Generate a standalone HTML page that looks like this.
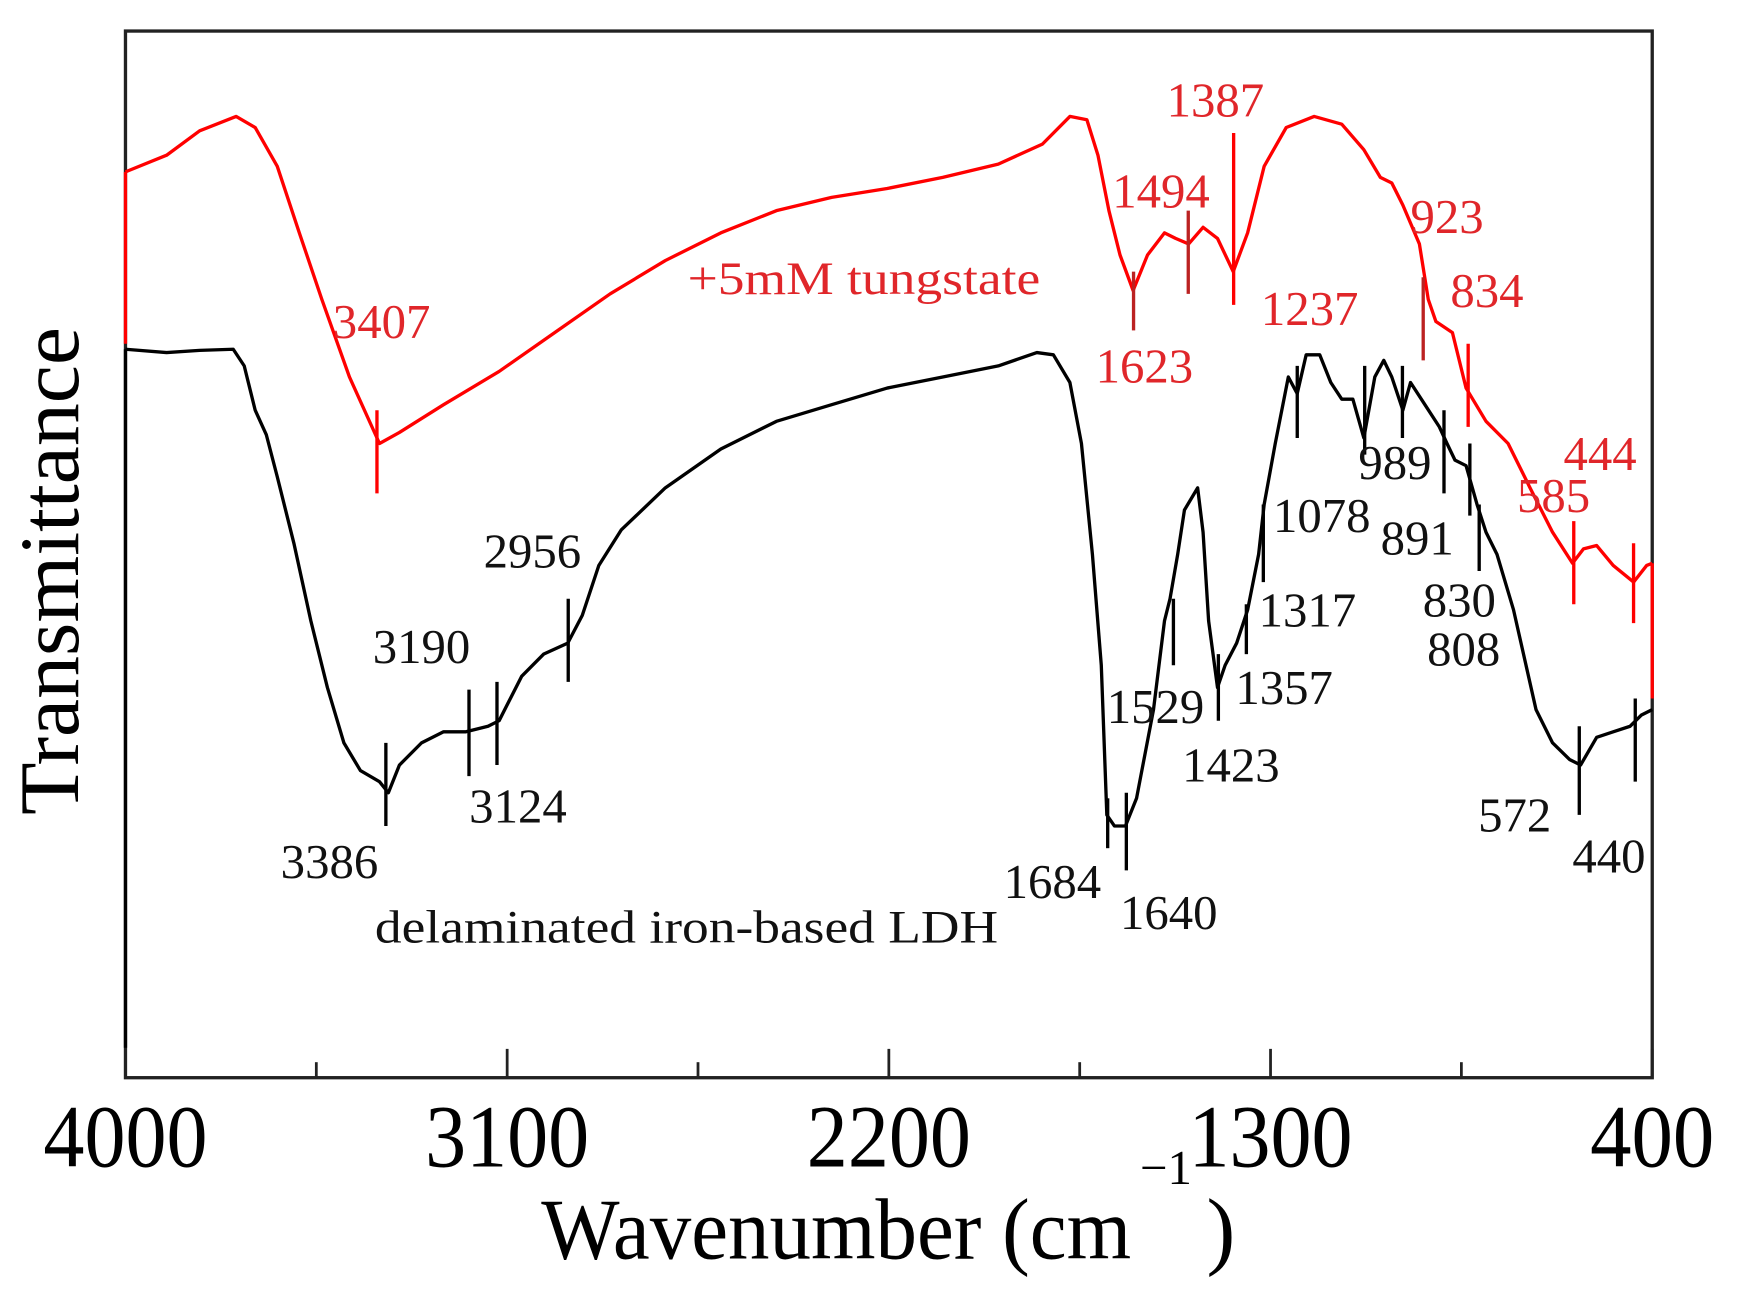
<!DOCTYPE html>
<html><head><meta charset="utf-8"><style>
html,body{margin:0;padding:0;background:#fff}
svg{display:block}
text{font-family:"Liberation Serif",serif}
</style></head><body>
<svg id="chart" width="1740" height="1305" viewBox="0 0 1569 1177" xmlns="http://www.w3.org/2000/svg">
<g id="g"></g>
</svg>
<script>
// Data (wavenumber cm-1, transmittance a.u.)
const redWn=[4000,3903,3825,3739,3694,3642,3590,3537,3472,3401,3354,3250,3119,2988,2857,2727,2596,2465,2335,2204,2073,1942,1838,1773,1733,1707,1681,1655,1624,1590,1550,1524,1493,1459,1425,1388,1354,1315,1263,1197,1132,1080,1041,1014,988,949,928,910,871,839,792,740,688,635,588,562,531,492,444,413,400];
const redT=[84.5,86,88.2,89.5,88.5,85,79,73,66,60,61,63.5,66.5,70,73.5,76.5,79,81,82.2,83,84,85.2,87,89.5,89.2,86,81,77,73.8,77,79,78.5,78,79.5,78.5,75.5,79,85,88.5,89.5,88.8,86.5,84,83.5,81.5,78,73,71,70,65,62,60,56,52,49.2,50.5,50.8,49,47.5,49,49.2];
const blackWn=[4000,3903,3825,3746,3720,3694,3668,3642,3603,3563,3524,3485,3446,3401,3380,3354,3302,3250,3197,3145,3119,3066,3014,2957,2923,2884,2831,2727,2596,2465,2335,2204,2073,1942,1851,1812,1773,1746,1720,1699,1686,1668,1642,1616,1576,1550,1537,1519,1503,1472,1459,1446,1425,1407,1380,1354,1328,1315,1289,1258,1237,1216,1184,1158,1132,1106,1080,1054,1033,1014,988,970,936,902,884,865,839,813,792,766,727,674,635,595,569,531,492,452,426,400];
const blackT=[68.5,68.2,68.4,68.5,67,63,60.8,57,51,44,38,33,30.5,29.5,28.5,31,33,34,34,34.5,35,39,41,42,44.5,49,52.2,56,59.5,62,63.5,65,66,67,68.2,68,65.5,60,50,40,26.5,25.5,25.5,28,36,44,46,50,54,56,52,44,38,40,42,45,50,54.5,60,66,64.5,68,68,65.5,64,64,60.5,66,67.5,66,63,65.5,63.5,61.5,60,58.5,58,54.5,52,50,45,36,33,31.5,31,33.5,34,34.5,35.5,36];
const xTicks=[4000,3100,2200,1300,400];
const xMinor=[3550,2650,1750,850];
const redMarkWn=[3407,1623,1494,1387,940,834,585,444];
const redMarkTop=[63,75.5,81,88,75,69,53,51];
const redMarkBot=[55.5,70.2,73.5,72.5,67.5,61.5,45.5,43.8];
const redLabels=["3407","1623","1494","1387","923","834","585","444","1237"];
const redLabelPos=[[300,305],[988,345],[1003,187],[1052,105],[1272,210],[1308,277],[1368,462],[1410,424],[1137,293]];
const blackMarkWn=[3386,3190,3124,2956,1684,1640,1529,1423,1357,1317,1237,1078,989,891,830,808,572,440];
const blackMarkTop=[33,37.8,38.5,46,28,28.5,46,41,45.5,54.5,67,67,67,63,60,54.5,34.5,37];
const blackMarkBot=[25.5,30,31,38.5,23.5,21.5,40,35,41,47.5,60.5,59,60.5,55.5,53.5,48.5,26.5,29.5];
const blackLabels=["3386","3190","3124","2956","1684","1640","1529","1423","1357","1317","1078","989","891","830","808","572","440"];
const blackLabelPos=[[253,792],[336,598],[423,742],[436,512],[905,810],[1010,838],[998,652],[1066,705],[1114,635],[1135,565],[1148,480],[1225,432],[1245,500],[1283,556],[1287,600],[1333,750],[1418,787]];

const L=113,R=1490,T0=28,B=972;
const x=w=>L+(4000-w)*(R-L)/3600;
const y=t=>1000-t*10;
const g=document.getElementById('g');
const NS='http://www.w3.org/2000/svg';
function mk(tag,attrs){const e=document.createElementNS(NS,tag);for(const k in attrs)e.setAttribute(k,attrs[k]);g.appendChild(e);return e;}
function path(wn,t){return wn.map((w,i)=>(i?'L':'M')+x(w).toFixed(1)+','+y(t[i]).toFixed(1)).join(' ');}

let fr=mk('rect',{x:L,y:T0,width:R-L,height:B-T0,fill:'none',stroke:'#222','stroke-width':3});


xTicks.forEach(w=>{let t=mk('line',{x1:x(w),x2:x(w),y1:B,y2:B-26,stroke:'#222','stroke-width':2.5});


let lb=mk('text',{x:x(w),y:B+80,'font-size':80,'text-anchor':'middle',fill:'#000',textLength:w>=1000?148:112,lengthAdjust:'spacingAndGlyphs'});lb.textContent=w;

});
xMinor.forEach(w=>{let t=mk('line',{x1:x(w),x2:x(w),y1:B,y2:B-14,stroke:'#222','stroke-width':2.5});

});

let rv=mk('line',{x1:x(4000),x2:x(4000),y1:y(redT[0]),y2:y(69),stroke:'#f00','stroke-width':3});


let bv=mk('line',{x1:x(4000),x2:x(4000),y1:y(blackT[0]),y2:y(5.5),stroke:'#000','stroke-width':3});


let rr=mk('line',{x1:x(400),x2:x(400),y1:y(redT[redT.length-1]),y2:y(37),stroke:'#f00','stroke-width':3});



let bp=mk('path',{d:path(blackWn,blackT),fill:'none',stroke:'#000','stroke-width':3,'stroke-linejoin':'round'});


let rp=mk('path',{d:path(redWn,redT),fill:'none',stroke:'#f00','stroke-width':3,'stroke-linejoin':'round'});



redMarkWn.forEach((w,i)=>{let l=mk('line',{x1:x(w),x2:x(w),y1:y(redMarkTop[i]),y2:y(redMarkBot[i]),stroke:i==1||i==2||i==4?'#b22':'#f00','stroke-width':3});

});
blackMarkWn.forEach((w,i)=>{let l=mk('line',{x1:x(w),x2:x(w),y1:y(blackMarkTop[i]),y2:y(blackMarkBot[i]),stroke:'#000','stroke-width':3});

});
redLabels.forEach((s,i)=>{let t=mk('text',{x:redLabelPos[i][0],y:redLabelPos[i][1],'font-size':44,fill:'#e0262a'});t.textContent=s;

});
blackLabels.forEach((s,i)=>{let t=mk('text',{x:blackLabelPos[i][0],y:blackLabelPos[i][1],'font-size':44,fill:'#111'});t.textContent=s;

});

let s1=mk('text',{x:620,y:265,'font-size':42,fill:'#e0262a',textLength:318,lengthAdjust:'spacingAndGlyphs'});s1.textContent='+5mM tungstate';


let s2=mk('text',{x:338,y:850,'font-size':42,fill:'#111',textLength:562,lengthAdjust:'spacingAndGlyphs'});s2.textContent='delaminated iron-based LDH';



let xt=mk('text',{x:488,y:1135,'font-size':78,fill:'#000',textLength:532,lengthAdjust:'spacingAndGlyphs'});xt.textContent='Wavenumber (cm';


let sup=mk('text',{x:1028,y:1068,'font-size':44,fill:'#000'});sup.textContent='\u22121';


let cp=mk('text',{x:1088,y:1135,'font-size':78,fill:'#000'});cp.textContent=')';


let yt=mk('text',{x:0,y:0,'font-size':76,fill:'#000','text-anchor':'middle',textLength:440,lengthAdjust:'spacingAndGlyphs',transform:'translate(70,515) rotate(-90)'});yt.textContent='Transmittance';


</script>
</body></html>
